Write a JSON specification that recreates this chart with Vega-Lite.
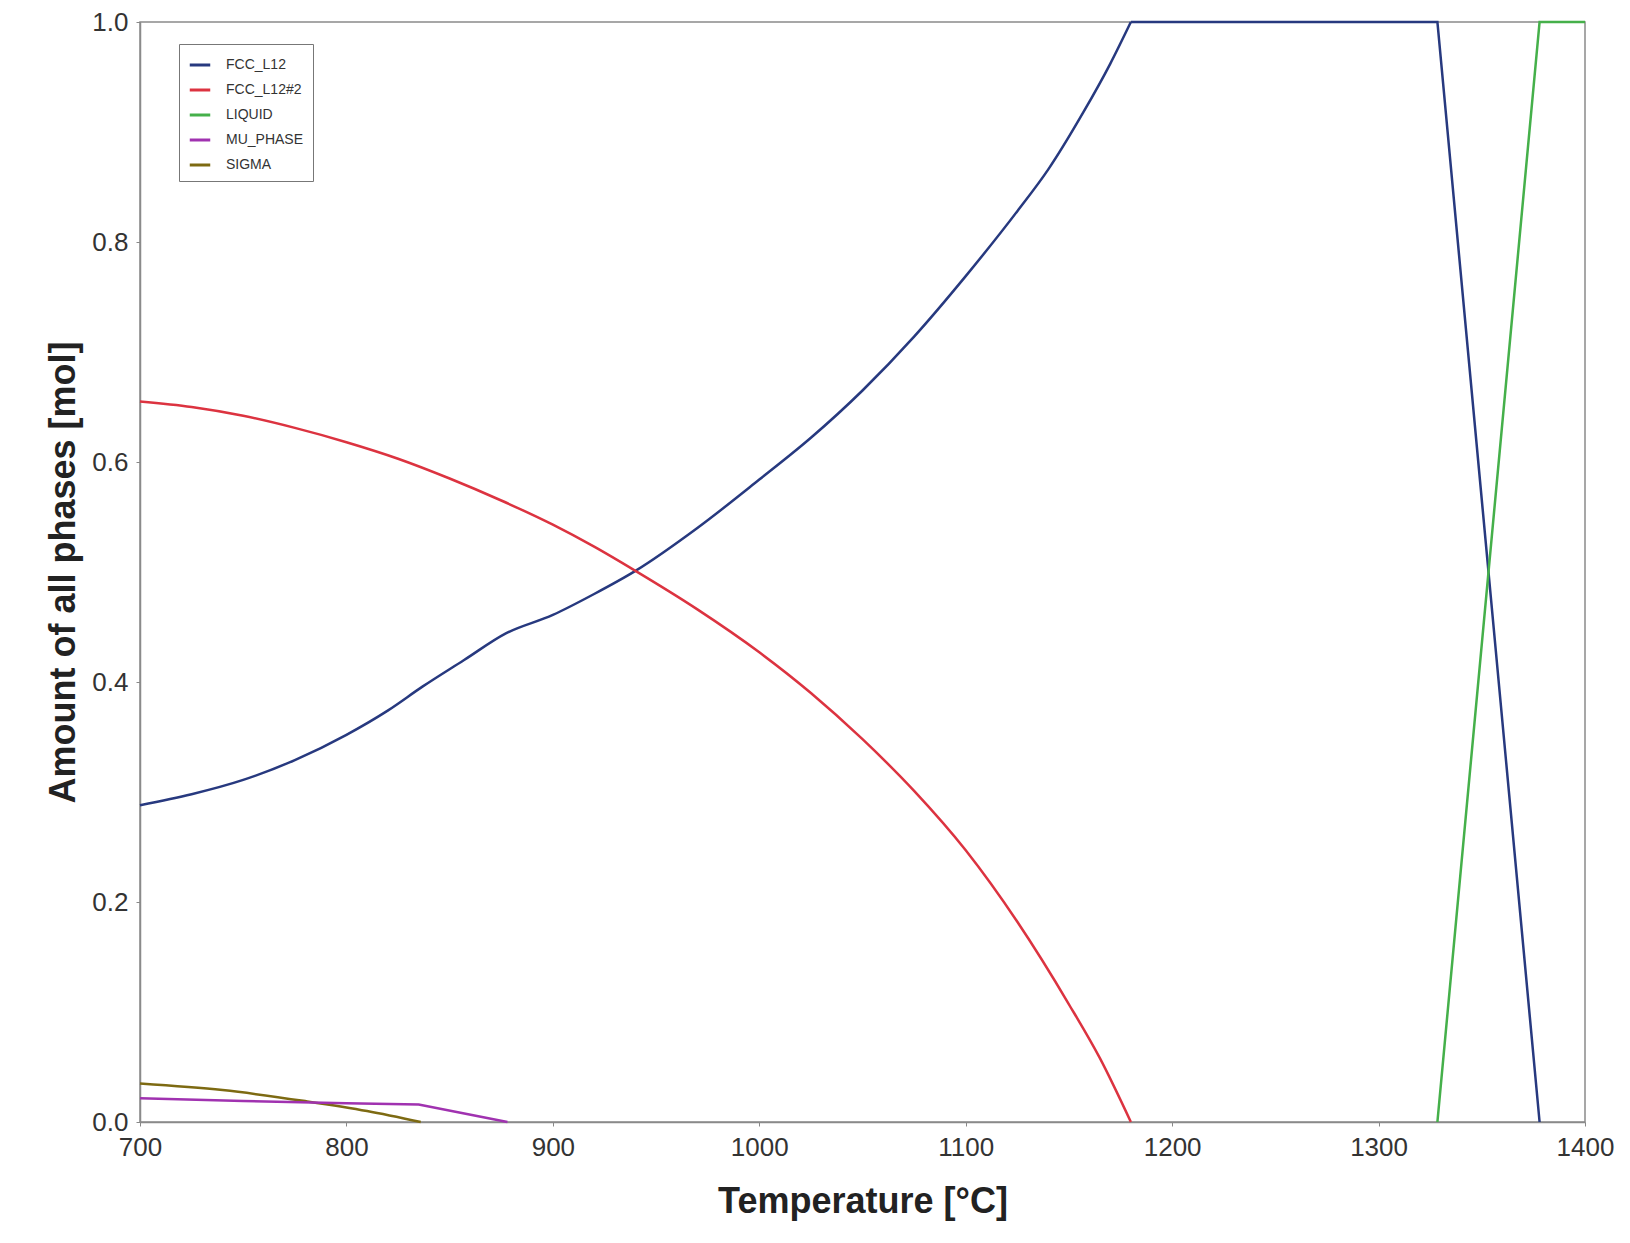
{
  "$schema": "https://vega.github.io/schema/vega-lite/v6.json",
  "width": 1445,
  "height": 1100,
  "autosize": {"type": "none"},
  "padding": {"left": 140, "top": 22, "right": 45, "bottom": 121},
  "background": "white",
  "config": {
    "view": {"stroke": "#8a8a8a", "strokeWidth": 1.5},
    "font": "Liberation Sans"
  },
  "data": {
    "values": [
      {"phase": "FCC_L12", "kind": "smooth", "T": 700, "v": 0.288},
      {"phase": "FCC_L12", "kind": "smooth", "T": 725, "v": 0.298},
      {"phase": "FCC_L12", "kind": "smooth", "T": 750, "v": 0.311},
      {"phase": "FCC_L12", "kind": "smooth", "T": 775, "v": 0.329},
      {"phase": "FCC_L12", "kind": "smooth", "T": 800, "v": 0.352},
      {"phase": "FCC_L12", "kind": "smooth", "T": 820, "v": 0.374},
      {"phase": "FCC_L12", "kind": "smooth", "T": 837, "v": 0.396},
      {"phase": "FCC_L12", "kind": "smooth", "T": 857, "v": 0.42},
      {"phase": "FCC_L12", "kind": "smooth", "T": 877, "v": 0.444},
      {"phase": "FCC_L12", "kind": "smooth", "T": 900, "v": 0.461},
      {"phase": "FCC_L12", "kind": "smooth", "T": 920, "v": 0.48},
      {"phase": "FCC_L12", "kind": "smooth", "T": 940, "v": 0.501},
      {"phase": "FCC_L12", "kind": "smooth", "T": 970, "v": 0.54},
      {"phase": "FCC_L12", "kind": "smooth", "T": 1000, "v": 0.584},
      {"phase": "FCC_L12", "kind": "smooth", "T": 1025, "v": 0.622},
      {"phase": "FCC_L12", "kind": "smooth", "T": 1050, "v": 0.665},
      {"phase": "FCC_L12", "kind": "smooth", "T": 1075, "v": 0.714},
      {"phase": "FCC_L12", "kind": "smooth", "T": 1100, "v": 0.769},
      {"phase": "FCC_L12", "kind": "smooth", "T": 1125, "v": 0.828},
      {"phase": "FCC_L12", "kind": "smooth", "T": 1140, "v": 0.866},
      {"phase": "FCC_L12", "kind": "smooth", "T": 1157, "v": 0.918},
      {"phase": "FCC_L12", "kind": "smooth", "T": 1170, "v": 0.962},
      {"phase": "FCC_L12", "kind": "smooth", "T": 1180, "v": 1.0},
      {"phase": "FCC_L12", "kind": "straight", "T": 1180, "v": 1.0},
      {"phase": "FCC_L12", "kind": "straight", "T": 1328.5, "v": 1.0},
      {"phase": "FCC_L12", "kind": "straight", "T": 1378, "v": 0.0},
      {"phase": "FCC_L12#2", "kind": "smooth", "T": 700, "v": 0.655},
      {"phase": "FCC_L12#2", "kind": "smooth", "T": 725, "v": 0.65},
      {"phase": "FCC_L12#2", "kind": "smooth", "T": 750, "v": 0.642},
      {"phase": "FCC_L12#2", "kind": "smooth", "T": 775, "v": 0.631},
      {"phase": "FCC_L12#2", "kind": "smooth", "T": 800, "v": 0.618},
      {"phase": "FCC_L12#2", "kind": "smooth", "T": 825, "v": 0.603},
      {"phase": "FCC_L12#2", "kind": "smooth", "T": 850, "v": 0.585},
      {"phase": "FCC_L12#2", "kind": "smooth", "T": 875, "v": 0.565},
      {"phase": "FCC_L12#2", "kind": "smooth", "T": 900, "v": 0.543},
      {"phase": "FCC_L12#2", "kind": "smooth", "T": 920, "v": 0.523},
      {"phase": "FCC_L12#2", "kind": "smooth", "T": 940, "v": 0.501},
      {"phase": "FCC_L12#2", "kind": "smooth", "T": 970, "v": 0.466},
      {"phase": "FCC_L12#2", "kind": "smooth", "T": 1000, "v": 0.427},
      {"phase": "FCC_L12#2", "kind": "smooth", "T": 1025, "v": 0.39},
      {"phase": "FCC_L12#2", "kind": "smooth", "T": 1050, "v": 0.348},
      {"phase": "FCC_L12#2", "kind": "smooth", "T": 1075, "v": 0.301},
      {"phase": "FCC_L12#2", "kind": "smooth", "T": 1100, "v": 0.247},
      {"phase": "FCC_L12#2", "kind": "smooth", "T": 1125, "v": 0.182},
      {"phase": "FCC_L12#2", "kind": "smooth", "T": 1150, "v": 0.107},
      {"phase": "FCC_L12#2", "kind": "smooth", "T": 1165, "v": 0.058},
      {"phase": "FCC_L12#2", "kind": "smooth", "T": 1180, "v": 0.0},
      {"phase": "LIQUID", "kind": "straight", "T": 1328.5, "v": 0.0},
      {"phase": "LIQUID", "kind": "straight", "T": 1378, "v": 1.0},
      {"phase": "LIQUID", "kind": "straight", "T": 1400, "v": 1.0},
      {"phase": "MU_PHASE", "kind": "straight", "T": 700, "v": 0.0215},
      {"phase": "MU_PHASE", "kind": "straight", "T": 750, "v": 0.019},
      {"phase": "MU_PHASE", "kind": "straight", "T": 800, "v": 0.017},
      {"phase": "MU_PHASE", "kind": "straight", "T": 835, "v": 0.016},
      {"phase": "MU_PHASE", "kind": "straight", "T": 878, "v": 0.0},
      {"phase": "SIGMA", "kind": "smooth", "T": 700, "v": 0.035},
      {"phase": "SIGMA", "kind": "smooth", "T": 740, "v": 0.029},
      {"phase": "SIGMA", "kind": "smooth", "T": 780, "v": 0.019},
      {"phase": "SIGMA", "kind": "smooth", "T": 810, "v": 0.01},
      {"phase": "SIGMA", "kind": "smooth", "T": 836, "v": 0.0}
    ]
  },
  "encoding": {
    "x": {
      "field": "T",
      "type": "quantitative",
      "scale": {"domain": [700, 1400], "nice": false, "zero": false},
      "axis": {
        "title": "Temperature [°C]",
        "titleFontSize": 36,
        "titleFontWeight": "bold",
        "titleColor": "#222222",
        "titlePadding": 24,
        "labelFontSize": 26,
        "labelColor": "#333333",
        "labelPadding": 8,
        "labelFlush": false,
        "values": [700, 800, 900, 1000, 1100, 1200, 1300, 1400],
        "format": "d",
        "grid": false,
        "tickSize": 4,
        "tickColor": "#888888",
        "domainColor": "#8a8a8a",
        "domainWidth": 1.5
      }
    },
    "y": {
      "field": "v",
      "type": "quantitative",
      "scale": {"domain": [0, 1], "nice": false},
      "axis": {
        "title": "Amount of all phases [mol]",
        "titleFontSize": 36,
        "titleFontWeight": "bold",
        "titleColor": "#222222",
        "titlePadding": 9,
        "labelFontSize": 26,
        "labelColor": "#333333",
        "labelPadding": 8,
        "labelFlush": false,
        "values": [0, 0.2, 0.4, 0.6, 0.8, 1.0],
        "format": ".1f",
        "grid": false,
        "tickSize": 4,
        "tickColor": "#888888",
        "domainColor": "#8a8a8a",
        "domainWidth": 1.5
      }
    },
    "color": {
      "field": "phase",
      "type": "nominal",
      "scale": {
        "domain": ["FCC_L12", "FCC_L12#2", "LIQUID", "MU_PHASE", "SIGMA"],
        "range": ["#27397f", "#dc3340", "#45b04a", "#a032b0", "#7d6a12"]
      },
      "legend": {
        "title": null,
        "orient": "none",
        "legendX": 39,
        "legendY": 22,
        "strokeColor": "#777777",
        "fillColor": "white",
        "padding": 9,
        "labelFontSize": 14,
        "labelColor": "#333333",
        "symbolType": "stroke",
        "symbolStrokeWidth": 3,
        "symbolSize": 420,
        "labelOffset": 14,
        "rowPadding": 6
      }
    }
  },
  "layer": [
    {
      "transform": [{"filter": "datum.kind === 'smooth'"}],
      "mark": {"type": "line", "strokeWidth": 2.5, "clip": false, "interpolate": "monotone"}
    },
    {
      "transform": [{"filter": "datum.kind === 'straight'"}],
      "mark": {"type": "line", "strokeWidth": 2.5, "clip": false, "interpolate": "linear"}
    }
  ]
}
